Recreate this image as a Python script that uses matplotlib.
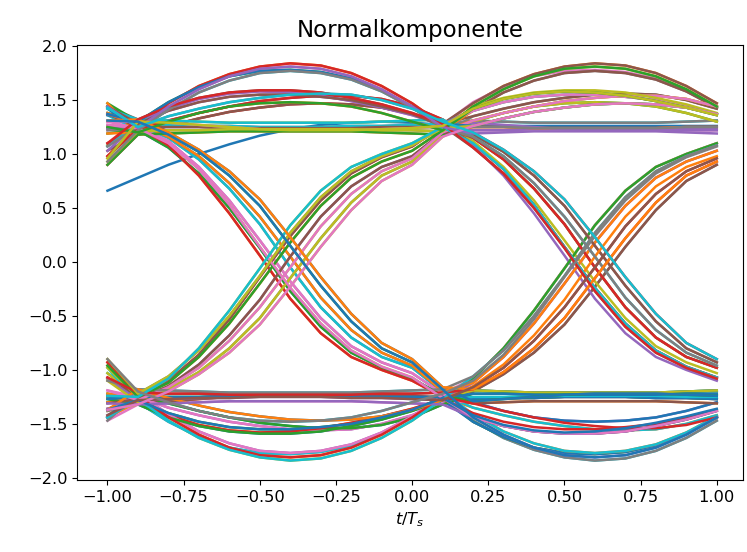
import numpy as np
import matplotlib
matplotlib.use("Agg")
import matplotlib.pyplot as plt

# Zeitachse (t/Ts), Abtastraster 0.1
t = [-1.0, -0.9, -0.8, -0.7, -0.6, -0.5, -0.4, -0.3, -0.2, -0.1, 0.0,
     0.1, 0.2, 0.3, 0.4, 0.5, 0.6, 0.7, 0.8, 0.9, 1.0]

# Einschwingvorgang (erste Kurve)
first_trace = [0.66, 0.78, 0.90, 1.00, 1.09, 1.17, 1.23, 1.27, 1.29, 1.30, 1.29,
               1.27, 1.26, 1.26, 1.26, 1.26, 1.26, 1.26, 1.26, 1.26, 1.26]

# Symbolabschnitte von Kreuzung zu Kreuzung (11 Werte), obere Lage
# grosse Boegen
H1 = [1.27, 1.47, 1.63, 1.74, 1.81, 1.84, 1.82, 1.75, 1.63, 1.47, 1.27]
H2 = [1.24, 1.44, 1.60, 1.72, 1.79, 1.81, 1.79, 1.72, 1.60, 1.44, 1.25]
H3 = [1.22, 1.41, 1.57, 1.68, 1.75, 1.77, 1.75, 1.69, 1.58, 1.43, 1.24]
H4 = [1.30, 1.48, 1.62, 1.72, 1.77, 1.78, 1.76, 1.70, 1.59, 1.44, 1.28]
# mittlere Boegen
M1 = [1.30, 1.42, 1.51, 1.56, 1.58, 1.57, 1.54, 1.49, 1.43, 1.36, 1.27]
M2 = [1.25, 1.35, 1.42, 1.48, 1.52, 1.55, 1.56, 1.55, 1.50, 1.42, 1.30]
M3 = [1.20, 1.30, 1.38, 1.44, 1.47, 1.48, 1.47, 1.44, 1.38, 1.30, 1.22]
M4 = [1.28, 1.40, 1.48, 1.53, 1.55, 1.55, 1.53, 1.50, 1.44, 1.37, 1.26]
M5 = [1.23, 1.31, 1.38, 1.44, 1.49, 1.52, 1.54, 1.54, 1.51, 1.44, 1.32]
M6 = [1.32, 1.44, 1.52, 1.57, 1.59, 1.59, 1.57, 1.52, 1.46, 1.38, 1.28]
M7 = [1.18, 1.26, 1.33, 1.39, 1.43, 1.46, 1.47, 1.46, 1.43, 1.37, 1.28]
# nahezu konstant
F1 = [1.32, 1.31, 1.30, 1.29, 1.29, 1.29, 1.29, 1.29, 1.30, 1.31, 1.32]
F2 = [1.18, 1.19, 1.20, 1.21, 1.21, 1.21, 1.21, 1.21, 1.20, 1.19, 1.18]
F3 = [1.25, 1.25, 1.25, 1.24, 1.24, 1.24, 1.24, 1.24, 1.25, 1.25, 1.25]
F4 = [1.28, 1.27, 1.26, 1.26, 1.25, 1.25, 1.25, 1.26, 1.26, 1.27, 1.28]
F5 = [1.21, 1.22, 1.22, 1.23, 1.23, 1.23, 1.23, 1.23, 1.22, 1.22, 1.21]
F6 = [1.30, 1.29, 1.27, 1.25, 1.23, 1.22, 1.22, 1.22, 1.23, 1.24, 1.26]
# Uebergaenge von oben nach unten
D1 = [1.25, 1.08, 0.80, 0.45, 0.06, -0.34, -0.66, -0.88, -1.00, -1.10, -1.25]
D2 = [1.25, 1.12, 0.88, 0.57, 0.20, -0.18, -0.52, -0.78, -0.93, -1.03, -1.22]
D3 = [1.27, 1.15, 0.95, 0.68, 0.35, -0.05, -0.42, -0.70, -0.88, -0.98, -1.20]
D4 = [1.30, 1.18, 1.02, 0.80, 0.52, 0.15, -0.22, -0.55, -0.80, -0.93, -1.18]
D5 = [1.22, 1.06, 0.82, 0.50, 0.13, -0.27, -0.60, -0.84, -0.98, -1.08, -1.24]
D6 = [1.28, 1.16, 0.98, 0.73, 0.42, 0.05, -0.33, -0.63, -0.84, -0.96, -1.20]
D7 = [1.24, 1.10, 0.86, 0.53, 0.14, -0.24, -0.57, -0.82, -0.97, -1.07, -1.26]
D8 = [1.32, 1.20, 1.04, 0.84, 0.58, 0.23, -0.14, -0.48, -0.75, -0.90, -1.16]

segments = {"H1": H1, "H2": H2, "H3": H3, "H4": H4,
            "M1": M1, "M2": M2, "M3": M3, "M4": M4, "M5": M5, "M6": M6, "M7": M7,
            "F1": F1, "F2": F2, "F3": F3, "F4": F4, "F5": F5, "F6": F6,
            "D1": D1, "D2": D2, "D3": D3, "D4": D4,
            "D5": D5, "D6": D6, "D7": D7, "D8": D8}

# (vorheriges Symbol, Symbol links, Symbol rechts); "-" = untere Lage / gespiegelt
traces = [
    ("+F3", "+H1", "+H1"), ("+D2", "-H1", "-D1"), ("+M4", "+M1", "+M1"),
    ("-H2", "-M1", "-F1"), ("-D5", "+F1", "+D2"), ("-F1", "-F1", "-H2"),
    ("+M6", "+D1", "-M2"), ("+D3", "-D1", "+D3"), ("+H4", "+H2", "+F2"),
    ("-F5", "-H2", "-H3"), ("-D7", "+M2", "+D4"), ("-M2", "-M2", "-M3"),
    ("+H1", "+F2", "+F3"), ("+D1", "-F2", "-D5"), ("+F6", "+D2", "-H4"),
    ("-M3", "-D2", "+M4"), ("-D4", "+H3", "+D6"), ("-H3", "-H3", "-F4"),
    ("+F2", "+M3", "+M5"), ("+D8", "-M3", "-D7"), ("+M5", "+F3", "+F5"),
    ("-F4", "-F3", "-M6"), ("-D6", "+D3", "-D8"), ("-M1", "-D3", "+F6"),
    ("+M7", "+H4", "+M7"), ("-F3", "-H4", "-H1"), ("-D2", "+M4", "+D1"),
    ("-M4", "-M4", "-M1"), ("+H2", "+F4", "+F1"), ("+D5", "-F4", "-D2"),
    ("+F1", "+D4", "-H2"), ("-M6", "-D4", "+M2"), ("-D3", "+M5", "+D3"),
    ("-H4", "-M5", "-F2"), ("+F5", "+F5", "+H3"), ("+D7", "-F5", "-D4"),
    ("+M2", "+D5", "-M3"), ("-H1", "-D5", "+F3"), ("-D1", "+M6", "+D5"),
    ("-F6", "-M6", "-H4"), ("+M3", "+F6", "+M4"), ("+D4", "-F6", "-D6"),
    ("+H3", "+D6", "-F4"), ("-F2", "-D6", "+M5"), ("-D8", "+M7", "+D7"),
    ("-M5", "-M7", "-F5"), ("+F4", "+D7", "-M6"), ("+D6", "-D7", "+D8"),
    ("+M1", "+D8", "-F6"), ("-M7", "-D8", "+M7"),
    ("-D3", "+H1", "+F3"), ("-H4", "-H1", "-D5"), ("+F5", "+M1", "+H4"),
    ("+D7", "-M1", "-M4"), ("+M2", "+F1", "+D6"), ("-H1", "-F1", "-F4"),
    ("-D1", "+D1", "-M5"), ("-F6", "-D1", "+D7"), ("+M3", "+H2", "+F5"),
    ("+D4", "-H2", "-M6"), ("+H3", "+M2", "+D8"), ("-F2", "-M2", "-F6"),
    ("-D8", "+F2", "+M7"), ("-M5", "-F2", "-H1"), ("+F4", "+D2", "-D1"),
    ("+D6", "-D2", "+M1"), ("+M1", "+H3", "+F1"), ("-M7", "-H3", "-D2"),
    ("+F3", "+M3", "+H2"), ("+D2", "-M3", "-M2"), ("+M4", "+F3", "+D3"),
    ("-H2", "-F3", "-F2"), ("-D5", "+D3", "-H3"), ("-F1", "-D3", "+D4"),
    ("+M6", "+H4", "+M3"), ("+D3", "-H4", "-F3"), ("+H4", "+M4", "+D5"),
    ("-F5", "-M4", "-H4"), ("-D7", "+F4", "+M4"), ("-M2", "-F4", "-D6"),
    ("+H1", "+D4", "-F4"), ("+D1", "-D4", "+M5"), ("+F6", "+M5", "+D7"),
    ("-M3", "-M5", "-F5"), ("-D4", "+F5", "+M6"), ("-H3", "-F5", "-D8"),
    ("+F2", "+D5", "-F6"), ("+D8", "-D5", "+M7"), ("+M5", "+M6", "+H1"),
    ("-F4", "-M6", "-D1"), ("-D6", "+F6", "+M1"), ("-M1", "-F6", "-F1"),
    ("+M7", "+D6", "-D2"), ("-F3", "-D6", "+H2"), ("-D2", "+M7", "+M2"),
    ("-M4", "-M7", "-D3"), ("+H2", "+D7", "-F2"), ("+D5", "-D7", "+H3"),
    ("+F1", "+D8", "-D4"), ("-M6", "-D8", "+M3"),
]


def seg(name):
    s = np.array(segments[name[1:]])
    return s if name[0] == "+" else -s


plt.rcParams["font.size"] = 11.7
fig = plt.figure(figsize=(7.47, 5.52), dpi=100)
ax = fig.add_axes([0.1031, 0.1304, 0.8911, 0.7881])

ax.plot(t, first_trace, lw=1.8)
# Zeichenreihenfolge durchmischen, damit sich die Farben verteilen
order = sorted(range(len(traces)), key=lambda i: (i * 37) % 101)
for i in order:
    prev, a, b = traces[i]
    y = np.concatenate([seg(prev)[9:10], seg(a), seg(b)[1:10]])
    ax.plot(t, y, lw=1.8)

ax.set_xlim(-1.1, 1.085)
ax.set_ylim(-2.02, 2.01)
ax.set_xticks([-1.0, -0.75, -0.5, -0.25, 0.0, 0.25, 0.5, 0.75, 1.0])
ax.set_yticks([-2.0, -1.5, -1.0, -0.5, 0.0, 0.5, 1.0, 1.5, 2.0])
ax.set_title("Normalkomponente", fontsize=16.5)
ax.set_xlabel("$t/T_s$")

fig.savefig("out.png", dpi=100)
